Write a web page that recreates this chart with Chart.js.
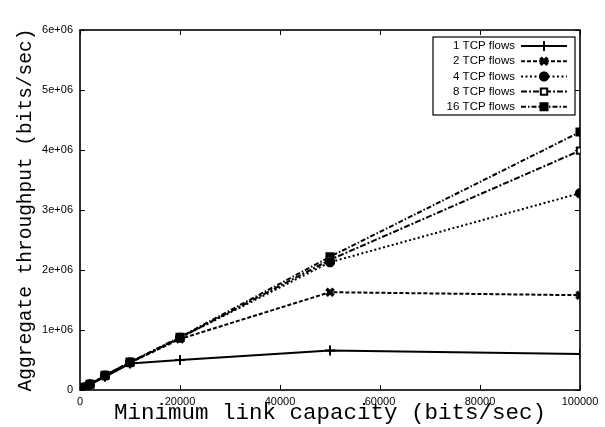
<!DOCTYPE html>
<html>
<head>
<meta charset="utf-8">
<script src="https://cdn.jsdelivr.net/npm/chart.js@4/dist/chart.umd.min.js"></script>
<style>
  html, body { margin: 0; padding: 0; background: #fff; }
  #wrap { width: 605px; height: 427px; }
</style>
</head>
<body>
<div id="wrap"><canvas id="c" width="605" height="427"></canvas></div>
<script>
// Minimum link capacity (bits/sec) at each measured point
const capacity = [500, 1000, 2000, 5000, 10000, 20000, 50000, 100000];

// Aggregate throughput (bits/sec) for each number of TCP flows
const flows1  = [20000, 40000, 90000, 220000, 440000, 500000, 660000, 600000];
const flows2  = [22000, 45000, 95000, 235000, 455000, 850000, 1630000, 1580000];
const flows4  = [22000, 45000, 95000, 240000, 460000, 870000, 2130000, 3280000];
const flows8  = [22000, 45000, 95000, 240000, 460000, 870000, 2170000, 3990000];
const flows16 = [22000, 46000, 96000, 245000, 465000, 880000, 2220000, 4300000];

const seriesNames = ['1 TCP flows', '2 TCP flows', '4 TCP flows', '8 TCP flows', '16 TCP flows'];

// Axis tick labels
const xTicks = [0, 20000, 40000, 60000, 80000, 100000];
const yTickValues = [0, 1000000, 2000000, 3000000, 4000000, 5000000, 6000000];
const yTickLabels = ['0', '1e+06', '2e+06', '3e+06', '4e+06', '5e+06', '6e+06'];

const styles = [
  { dash: [],             point: 'cross',    radius: 5,   bw: 2,   fill: '#000' },
  { dash: [4, 2],         point: 'crossRot', radius: 5,   bw: 3.5, fill: '#000' },
  { dash: [2, 2.5],       point: 'star',     radius: 5,   bw: 3.5, fill: '#000' },
  { dash: [6, 2, 2, 2],   point: 'rect',     radius: 4.5, bw: 2,   fill: '#fff' },
  { dash: [5, 2, 1.5, 2], point: 'rect',     radius: 5,   bw: 2,   fill: '#000' }
];

const allSeries = [flows1, flows2, flows4, flows8, flows16];

const datasets = allSeries.map((vals, i) => ({
  label: seriesNames[i],
  data: capacity.map((x, j) => ({ x: x, y: vals[j] })),
  borderColor: '#000',
  backgroundColor: styles[i].fill,
  borderWidth: 2,
  borderDash: styles[i].dash,
  pointStyle: styles[i].point,
  pointRadius: styles[i].radius,
  pointBorderWidth: styles[i].bw,
  pointBorderColor: '#000',
  pointBackgroundColor: styles[i].fill,
  tension: 0,
  fill: false
}));

// Plot frame with inward tick marks on all four sides
const framePlugin = {
  id: 'frame',
  beforeDatasetsDraw(chart) {
    const { ctx, chartArea: a, scales } = chart;
    ctx.save();
    ctx.strokeStyle = '#000';
    ctx.lineWidth = 1;
    const tl = 5;
    ctx.beginPath();
    xTicks.forEach(v => {
      const px = Math.round(scales.x.getPixelForValue(v)) + 0.5;
      ctx.moveTo(px, a.bottom); ctx.lineTo(px, a.bottom - tl);
      ctx.moveTo(px, a.top); ctx.lineTo(px, a.top + tl);
    });
    yTickValues.forEach(v => {
      const py = Math.round(scales.y.getPixelForValue(v)) + 0.5;
      ctx.moveTo(a.left, py); ctx.lineTo(a.left + tl, py);
      ctx.moveTo(a.right, py); ctx.lineTo(a.right - tl, py);
    });
    ctx.stroke();
    ctx.lineWidth = 1.6;
    ctx.strokeRect(a.left, a.top, a.right - a.left, a.bottom - a.top);
    ctx.restore();
  }
};

// Key box in the upper right corner of the plot
const keyPlugin = {
  id: 'key',
  afterDatasetsDraw(chart) {
    const { ctx, chartArea: a } = chart;
    const boxL = a.right - 147, boxT = a.top + 7, boxR = a.right - 5, boxB = a.top + 85;
    ctx.save();
    ctx.fillStyle = '#fff';
    ctx.fillRect(boxL, boxT, boxR - boxL, boxB - boxT);
    ctx.strokeStyle = '#000';
    ctx.lineWidth = 1.2;
    ctx.strokeRect(boxL, boxT, boxR - boxL, boxB - boxT);
    ctx.font = '11.5px "Liberation Sans", Arial, sans-serif';
    ctx.textAlign = 'right';
    ctx.textBaseline = 'middle';
    chart.data.datasets.forEach((ds, i) => {
      const y = boxT + 9 + i * 15.2;
      ctx.fillStyle = '#000';
      ctx.fillText(ds.label, boxL + 82, y);
      const x0 = boxL + 88, x1 = boxL + 134;
      ctx.strokeStyle = '#000';
      ctx.lineWidth = 2;
      ctx.setLineDash(ds.borderDash);
      ctx.beginPath();
      ctx.moveTo(x0, y); ctx.lineTo(x1, y);
      ctx.stroke();
      ctx.setLineDash([]);
      ctx.fillStyle = ds.pointBackgroundColor;
      ctx.strokeStyle = ds.pointBorderColor;
      ctx.lineWidth = ds.pointBorderWidth;
      Chart.helpers.drawPoint(ctx, {
        pointStyle: ds.pointStyle,
        radius: ds.pointRadius,
        borderWidth: ds.pointBorderWidth,
        rotation: 0
      }, (x0 + x1) / 2, y);
    });
    ctx.restore();
  }
};

const tickFont = { family: '"Liberation Sans", Arial, sans-serif', size: 11 };
const titleFamily = '"Liberation Mono", "Courier New", monospace';

new Chart(document.getElementById('c'), {
  type: 'line',
  data: { datasets: datasets },
  plugins: [framePlugin, keyPlugin],
  options: {
    responsive: false,
    animation: false,
    devicePixelRatio: 1,
    layout: { padding: { left: 0, top: 30, right: 25, bottom: 0 } },
    plugins: { legend: { display: false }, tooltip: { enabled: false } },
    elements: { line: { borderCapStyle: 'butt' } },
    scales: {
      x: {
        type: 'linear',
        min: 0, max: 100000,
        afterBuildTicks(scale) { scale.ticks = xTicks.map(v => ({ value: v })); },
        afterFit(scale) { scale.height = 37; },
        grid: { display: false, drawTicks: false },
        border: { display: false },
        ticks: { color: '#000', font: tickFont, padding: 5, maxRotation: 0,
                 callback: v => String(v) },
        title: { display: true, text: 'Minimum link capacity (bits/sec)', color: '#000',
                 font: { family: titleFamily, size: 22.5 }, padding: { top: 0, bottom: 0 } }
      },
      y: {
        type: 'linear',
        min: 0, max: 6000000,
        afterBuildTicks(scale) { scale.ticks = yTickValues.map(v => ({ value: v })); },
        afterFit(scale) { scale.width = 80; },
        grid: { display: false, drawTicks: false },
        border: { display: false },
        ticks: { color: '#000', font: tickFont, padding: 7,
                 callback: v => yTickLabels[yTickValues.indexOf(v)] },
        title: { display: true, text: 'Aggregate throughput (bits/sec)', color: '#000',
                 font: { family: titleFamily, size: 19.5 }, padding: { top: 14, bottom: 0 } }
      }
    }
  }
});
</script>
</body>
</html>
